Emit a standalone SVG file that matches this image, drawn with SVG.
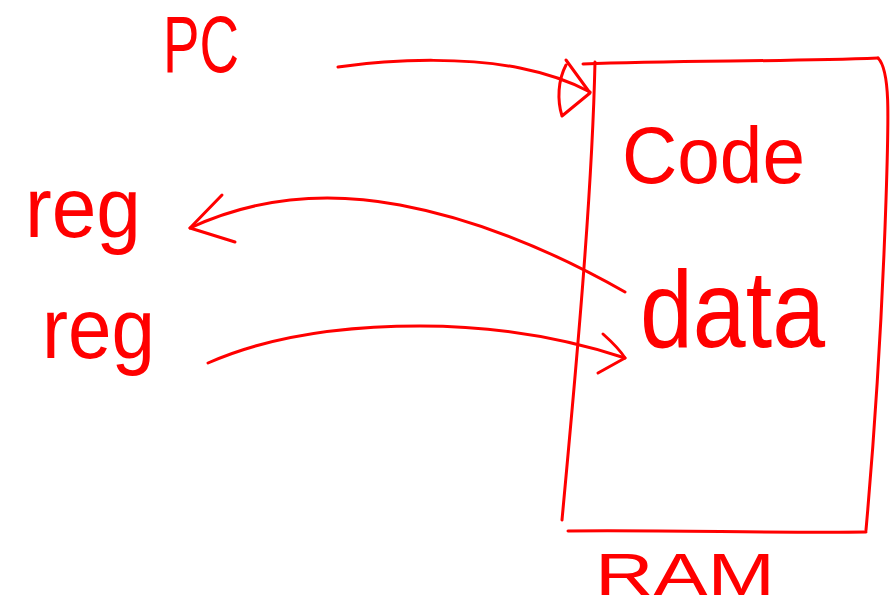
<svg xmlns="http://www.w3.org/2000/svg" width="892" height="610" viewBox="0 0 892 610">
  <style>
    .ink { fill: none; stroke: #ff0000; stroke-width: 3; stroke-linecap: round; stroke-linejoin: round; }
    .lbl { fill: #ff0000; font-family: "Liberation Sans", Arial, sans-serif; }
  </style>
  <rect width="892" height="610" fill="#ffffff"/>

  <!-- RAM block -->
  <g id="ram">
    <path class="ink" d="M595,62 C592,200 575,380 562,520"/>
    <path class="ink" d="M583,64 C680,60 780,62 878,58"/>
    <path class="ink" d="M878,58 C890,70 889,110 886,200 C882,320 874,440 866,530"/>
    <path class="ink" d="M568,531 C670,530 770,533 866,532"/>
    <text class="lbl" x="622" y="183" font-size="80" textLength="183" lengthAdjust="spacingAndGlyphs">Code</text>
    <text class="lbl" x="640" y="347" font-size="110" textLength="185" lengthAdjust="spacingAndGlyphs">data</text>
    <text class="lbl" x="595" y="595" font-size="60" textLength="180" lengthAdjust="spacingAndGlyphs">RAM</text>
  </g>

  <!-- program counter -->
  <g id="pc">
    <text class="lbl" x="163" y="72" font-size="80" textLength="76" lengthAdjust="spacingAndGlyphs">PC</text>
  </g>

  <!-- registers -->
  <g id="reg-load">
    <text class="lbl" x="25" y="237" font-size="85" textLength="116" lengthAdjust="spacingAndGlyphs">reg</text>
  </g>
  <g id="reg-store">
    <text class="lbl" x="42" y="358" font-size="85" textLength="113" lengthAdjust="spacingAndGlyphs">reg</text>
  </g>

  <!-- connectors -->
  <g id="connectors">
    <path class="ink" d="M338,67 C400,58 470,58 520,68 C550,74 575,84 590,92"/>
    <path class="ink" d="M566,60 L590,93 L562,116 C557,100 558,80 566,65"/>

    <path class="ink" d="M625,292 C560,255 480,220 400,205 C320,190 250,200 190,228"/>
    <path class="ink" d="M222,195 L190,228 L235,242"/>

    <path class="ink" d="M208,363 C260,340 330,326 420,326 C500,326 570,340 625,358"/>
    <path class="ink" d="M603,334 C612,342 620,350 625,358 L598,373"/>
  </g>
</svg>
